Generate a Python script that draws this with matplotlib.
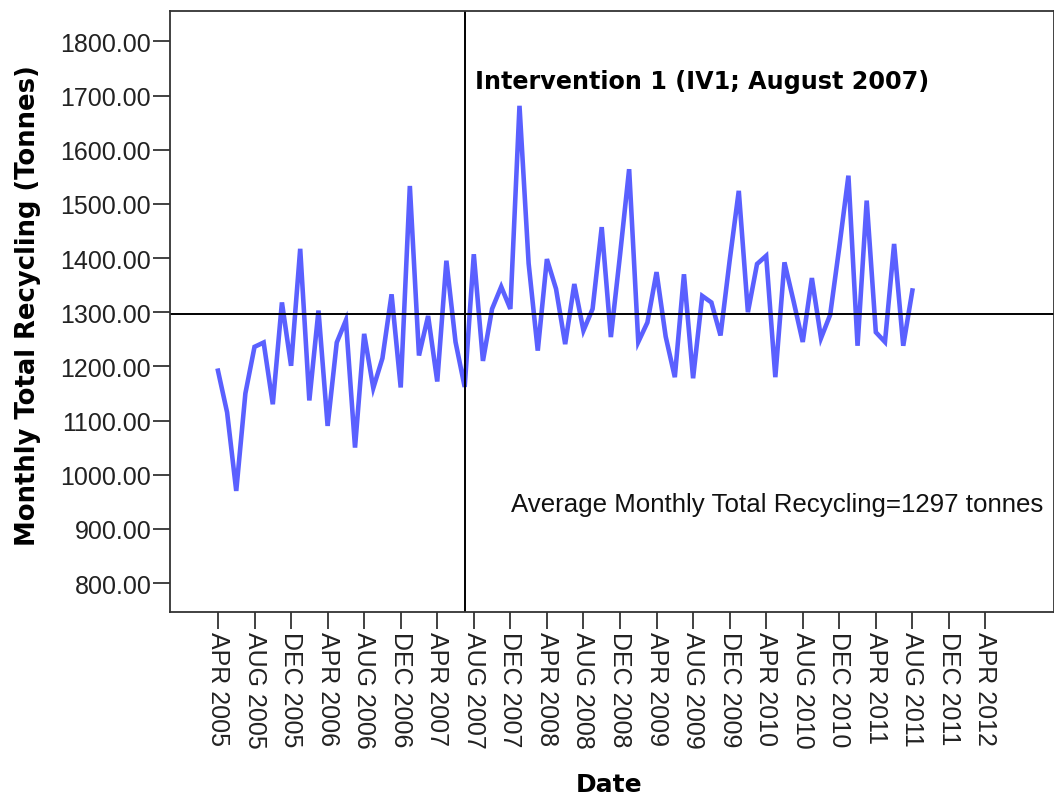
import matplotlib
matplotlib.use("Agg")
import matplotlib.pyplot as plt

plt.rcParams['font.family'] = ['Liberation Sans', 'DejaVu Sans']

# Month index 0 = April 2005 ... 76 = August 2011
recycling = [1192, 1115, 970, 1150, 1236, 1244, 1130, 1318, 1201, 1417,
             1137, 1303, 1090, 1244, 1285, 1050, 1260, 1160, 1215, 1333,
             1161, 1533, 1220, 1293, 1172, 1395, 1245, 1162, 1407, 1210,
             1306, 1347, 1306, 1681, 1390, 1229, 1398, 1343, 1241, 1352,
             1266, 1306, 1457, 1254, 1405, 1564, 1245, 1281, 1374, 1255,
             1180, 1370, 1178, 1330, 1318, 1257, 1395, 1524, 1300, 1389,
             1404, 1180, 1392, 1320, 1245, 1363, 1252, 1295, 1420, 1552,
             1238, 1506, 1263, 1245, 1426, 1238, 1340]
months = list(range(len(recycling)))

tick_labels = ["APR 2005", "AUG 2005", "DEC 2005", "APR 2006", "AUG 2006",
               "DEC 2006", "APR 2007", "AUG 2007", "DEC 2007", "APR 2008",
               "AUG 2008", "DEC 2008", "APR 2009", "AUG 2009", "DEC 2009",
               "APR 2010", "AUG 2010", "DEC 2010", "APR 2011", "AUG 2011",
               "DEC 2011", "APR 2012"]
tick_positions = [4 * i for i in range(len(tick_labels))]
y_ticks = [800, 900, 1000, 1100, 1200, 1300, 1400, 1500, 1600, 1700, 1800]

mean_value = 1297
intervention_month = 27

fig = plt.figure(figsize=(10.54, 8.03), dpi=100)
ax = fig.add_axes([170 / 1054, 1 - 613 / 803, 884 / 1054, 601 / 803])

ax.plot(months, recycling, color='#5a60ff', lw=3.3, solid_joinstyle='miter')
ax.axhline(mean_value, color='black', lw=1.4)
ax.axvline(intervention_month, color='black', lw=1.4)

ax.set_xlim(-5.25, 91.5)
ax.set_ylim(746.5, 1856)

ax.set_xticks(tick_positions)
ax.set_xticklabels(tick_labels, rotation=270, fontsize=18, color='#222222')
ax.set_yticks(y_ticks)
ax.set_yticklabels([f"{v:.2f}" for v in y_ticks], fontsize=18, color='#222222')
ax.tick_params(axis='both', direction='out', length=12, width=1.3,
               color='#333333', pad=1.5)

for s in ax.spines.values():
    s.set_color('#333333')
    s.set_linewidth(1.3)

ax.text(28.1, 1727, "Intervention 1 (IV1; August 2007)", fontsize=17.2,
        fontweight='bold', ha='left', va='center', color='black',
        family=['DejaVu Sans'])
ax.text(32.07, 946, "Average Monthly Total Recycling=1297 tonnes", fontsize=18.6,
        ha='left', va='center', color='#111111')

fig.text(28 / 1054, 1 - 306 / 803, "Monthly Total Recycling (Tonnes)",
         rotation=90, fontsize=18.6, fontweight='bold', ha='center', va='center',
         family=['DejaVu Sans'])
fig.text(609 / 1054, 1 - 785 / 803, "Date", fontsize=18, fontweight='bold',
         ha='center', va='center', family=['DejaVu Sans'])

fig.savefig("out.png", dpi=100)
